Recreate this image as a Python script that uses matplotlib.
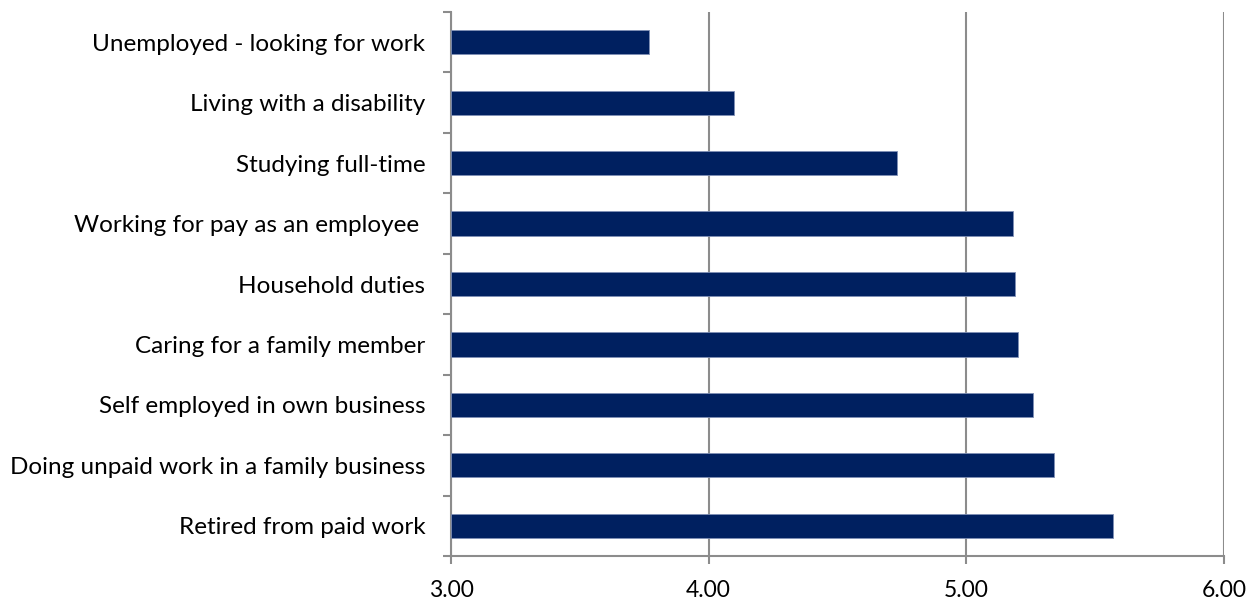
import matplotlib
matplotlib.use("Agg")
import matplotlib.pyplot as plt

categories = [
    "Unemployed - looking for work",
    "Living with a disability",
    "Studying full-time",
    "Working for pay as an employee ",
    "Household duties",
    "Caring for a family member",
    "Self employed in own business",
    "Doing unpaid work in a family business",
    "Retired from paid work",
]
values = [3.77, 4.10, 4.73, 5.18, 5.19, 5.20, 5.26, 5.34, 5.57]
x_ticks = [3.0, 4.0, 5.0, 6.0]
x_tick_labels = ["3.00", "4.00", "5.00", "6.00"]

plt.rcParams["font.family"] = ["Lato", "DejaVu Sans"]

fig = plt.figure(figsize=(12.59, 6.0), dpi=100)
ax = fig.add_axes([451 / 1259, 1 - 556 / 600, (1224 - 451) / 1259, (556 - 12) / 600])

bar_color = "#002060"
grid_color = "#8c8c8c"
n = len(categories)
ypos = list(range(n))
ax.barh(ypos, [v - 3.0 for v in values], left=3.0, height=0.4,
        color=bar_color, edgecolor="#7f8fb5", linewidth=0.6, zorder=3)

ax.set_xlim(3.0, 6.0)
ax.set_ylim(n - 0.5, -0.5)

ax.set_xticks(x_ticks)
ax.set_xticklabels(x_tick_labels, fontsize=16.5)
ax.xaxis.grid(True, color=grid_color, linewidth=1.5, zorder=0)
ax.tick_params(axis="x", direction="out", length=5.5, width=1.5, color=grid_color,
               pad=12, labelcolor="black")

# category labels centred on bars, ticks drawn at category boundaries
ax.set_yticks(ypos)
ax.set_yticklabels(categories, fontsize=17.5)
ax.tick_params(axis="y", which="major", length=0, pad=18.5, labelcolor="black")
ax.set_yticks([i - 0.5 for i in range(n + 1)], minor=True)
ax.tick_params(axis="y", which="minor", direction="out", length=5.5, width=1.5,
               color=grid_color)

for side in ("top", "right"):
    ax.spines[side].set_visible(False)
for side in ("left", "bottom"):
    ax.spines[side].set_color(grid_color)
    ax.spines[side].set_linewidth(1.5)

fig.savefig("out.png", dpi=100, facecolor="white")
